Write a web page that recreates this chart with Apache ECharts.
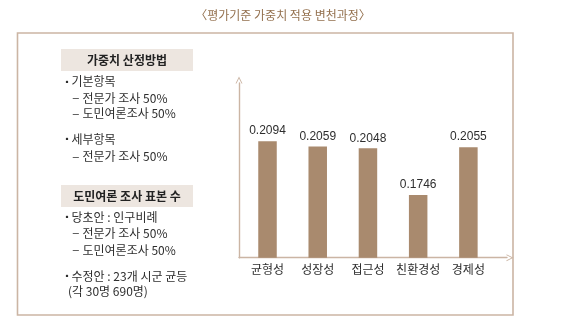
<!DOCTYPE html>
<html><head><meta charset="utf-8">
<script src="https://cdn.jsdelivr.net/npm/echarts@6/dist/echarts.min.js"></script>
<style>html,body{margin:0;padding:0;background:#fff}#c{width:561px;height:335px}</style>
</head><body><div id="c"></div>
<script>
const title = '〈평가기준 가중치 적용 변천과정〉';
const categories = ['균형성', '성장성', '접근성', '친환경성', '경제성'];
const weights = [0.2094, 0.2059, 0.2048, 0.1746, 0.2055];
const header1 = '가중치 산정방법';
const header2 = '도민여론 조사 표본 수';
// [kind, text] kind: b = bullet, d = dash, p = plain continuation
const panel1 = [['b', '기본항목'], ['d', '전문가 조사 50%'], ['d', '도민여론조사 50%'], ['b', '세부항목'], ['d', '전문가 조사 50%']];
const panel2 = [['b', '당초안 : 인구비례'], ['d', '전문가 조사 50%'], ['d', '도민여론조사 50%'], ['b', '수정안 : 23개 시군 균등'], ['p', '(각 30명 690명)']];

const FONT = '"Noto Sans CJK KR", "Noto Sans", sans-serif';
const txtColor = '#2e2e2e';
const lineColor = '#cbb5a4';

const ys1 = [81.7, 98.3, 113.6, 139.3, 156.7];
const ys2 = [217.0, 233.3, 250.0, 276.3, 291.7];

function panelText(items, ys) {
  const out = [];
  items.forEach((it, i) => {
    const [kind, text] = it;
    const y = ys[i];
    if (kind === 'b') {
      out.push({type: 'text', style: {x: 63, y: y, text: '▪', fill: txtColor, font: '8px ' + FONT, verticalAlign: 'middle'}});
      out.push({type: 'text', style: {x: 71.5, y: y, text: text, fill: txtColor, font: '12px ' + FONT, verticalAlign: 'middle'}});
    } else if (kind === 'd') {
      out.push({type: 'text', style: {x: 72.8, y: y, text: '–', fill: txtColor, font: '11px "Liberation Sans", sans-serif', verticalAlign: 'middle'}});
      out.push({type: 'text', style: {x: 82.5, y: y, text: text, fill: txtColor, font: '12px ' + FONT, verticalAlign: 'middle'}});
    } else {
      out.push({type: 'text', style: {x: 68, y: y, text: text, fill: txtColor, font: '12px ' + FONT, verticalAlign: 'middle'}});
    }
  });
  return out;
}

const chevron = 'path://M0,10 L5,0 L10,10 L8.6,10 L5,2.8 L1.4,10 Z';

const chart = echarts.init(document.getElementById('c'), null, {renderer: 'canvas'});
chart.setOption({
  animation: false,
  backgroundColor: '#ffffff',
  graphic: [
    {type: 'text', style: {x: 283, y: 15, text: title, fill: '#94714f', font: '12px ' + FONT, align: 'center', verticalAlign: 'middle'}},
    {type: 'rect', shape: {x: 17.5, y: 33, width: 495.5, height: 282}, style: {fill: 'none', stroke: lineColor, lineWidth: 1.6}},
    {type: 'rect', shape: {x: 61, y: 49, width: 132, height: 22}, style: {fill: '#ede6e0'}},
    {type: 'text', style: {x: 127, y: 60.5, text: header1, fill: '#222', font: 'bold 12px ' + FONT, align: 'center', verticalAlign: 'middle'}},
    {type: 'rect', shape: {x: 61, y: 185, width: 132, height: 22}, style: {fill: '#ede6e0'}},
    {type: 'text', style: {x: 127, y: 196, text: header2, fill: '#222', font: 'bold 12px ' + FONT, align: 'center', verticalAlign: 'middle'}}
  ].concat(panelText(panel1, ys1), panelText(panel2, ys2)),
  grid: [
    {left: 239, right: 54, top: 83, bottom: 77.3},
    {left: 242.4, right: 67.5, top: 83, bottom: 77.3}
  ],
  xAxis: [
    {gridIndex: 0, type: 'value', min: 0, max: 1, axisLine: {show: true, lineStyle: {color: lineColor, width: 1.4}, symbol: ['none', chevron], symbolSize: [7, 7], symbolOffset: [0, 3]}, axisTick: {show: false}, axisLabel: {show: false}, splitLine: {show: false}},
    {gridIndex: 1, type: 'category', data: categories, axisLine: {show: false}, axisTick: {show: false}, axisLabel: {interval: 0, color: txtColor, fontSize: 12, fontFamily: FONT, margin: 6}, splitLine: {show: false}}
  ],
  yAxis: [
    {gridIndex: 0, type: 'value', min: 0, max: 1, axisLine: {show: true, lineStyle: {color: lineColor, width: 1.4}, symbol: ['none', chevron], symbolSize: [7, 7], symbolOffset: [0, 3]}, axisTick: {show: false}, axisLabel: {show: false}, splitLine: {show: false}},
    {gridIndex: 1, type: 'value', min: 0.134, max: 0.247, axisLine: {show: false}, axisTick: {show: false}, axisLabel: {show: false}, splitLine: {show: false}}
  ],
  series: [
    {type: 'line', xAxisIndex: 0, yAxisIndex: 0, data: [], silent: true},
    {type: 'bar', xAxisIndex: 1, yAxisIndex: 1, data: weights, barWidth: 18.5,
     itemStyle: {color: '#a98a6e'},
     label: {show: true, position: 'top', distance: 4, color: txtColor, fontSize: 12, fontFamily: '"Liberation Sans", Arial, sans-serif', formatter: p => p.value.toFixed(4)}}
  ]
});
</script>
</body></html>
